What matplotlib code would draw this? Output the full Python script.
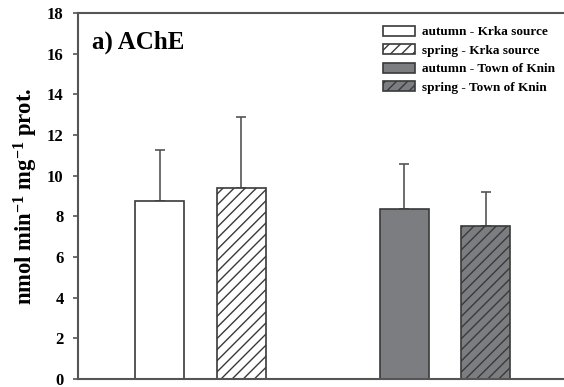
import matplotlib.pyplot as plt

plt.rcParams['font.family'] = 'Liberation Serif'
plt.rcParams['font.weight'] = 'bold'
plt.rcParams['mathtext.fontset'] = 'custom'
plt.rcParams['mathtext.rm'] = 'Liberation Serif:bold'
plt.rcParams['mathtext.bf'] = 'Liberation Serif:bold'
plt.rcParams['mathtext.it'] = 'Liberation Serif:bold'
plt.rcParams['hatch.linewidth'] = 1.0

labels = ['autumn - Krka source', 'spring - Krka source',
          'autumn - Town of Knin', 'spring - Town of Knin']
means = [8.75, 9.37, 8.36, 7.52]
sds = [2.50, 3.53, 2.20, 1.66]
positions = [1, 2, 4, 5]
fills = ['white', 'white', '#7b7d81', '#7b7d81']
hatches = ['', '///', '', '///']

fig = plt.figure(figsize=(5.64, 3.87), dpi=100)
ax = fig.add_axes([0.1383, 0.0207, 0.8617, 0.9457])

edge = '#3a3a3a'
for x, m, s, fc, h, lab in zip(positions, means, sds, fills, hatches, labels):
    ax.bar(x, m, width=0.6, color=fc, edgecolor=edge, hatch=h,
           linewidth=1.2, label=lab, zorder=2)
    ax.errorbar(x, m, yerr=[[0], [s]], color='#555555', capsize=3.6,
                elinewidth=1.2, capthick=1.2, zorder=1)

ax.set_xlim(0, 5.96)
ax.set_ylim(0, 18)
ax.set_yticks(range(0, 19, 2))
ax.set_xticks([])
ax.tick_params(axis='y', direction='out', length=3.8, width=1.2,
               color='#555555', labelsize=12, pad=6.5)
for side in ['left', 'top', 'bottom']:
    ax.spines[side].set_color('#555555')
    ax.spines[side].set_linewidth(1.5)
ax.spines['right'].set_visible(False)

ax.set_ylabel('nmol min$^{-1}$ mg$^{-1}$ prot.',
              fontsize=16.3, fontweight='bold', labelpad=5)
ax.text(0.029, 0.921, 'a) AChE', transform=ax.transAxes,
        fontsize=18, fontweight='bold', va='center', ha='left')

ax.legend(loc='upper left', bbox_to_anchor=(0.617, 0.98), frameon=False,
          fontsize=9.5, handlelength=2.4, handleheight=0.8,
          handletextpad=0.55, labelspacing=0.45, borderaxespad=0)

fig.savefig('out.png', dpi=100)
